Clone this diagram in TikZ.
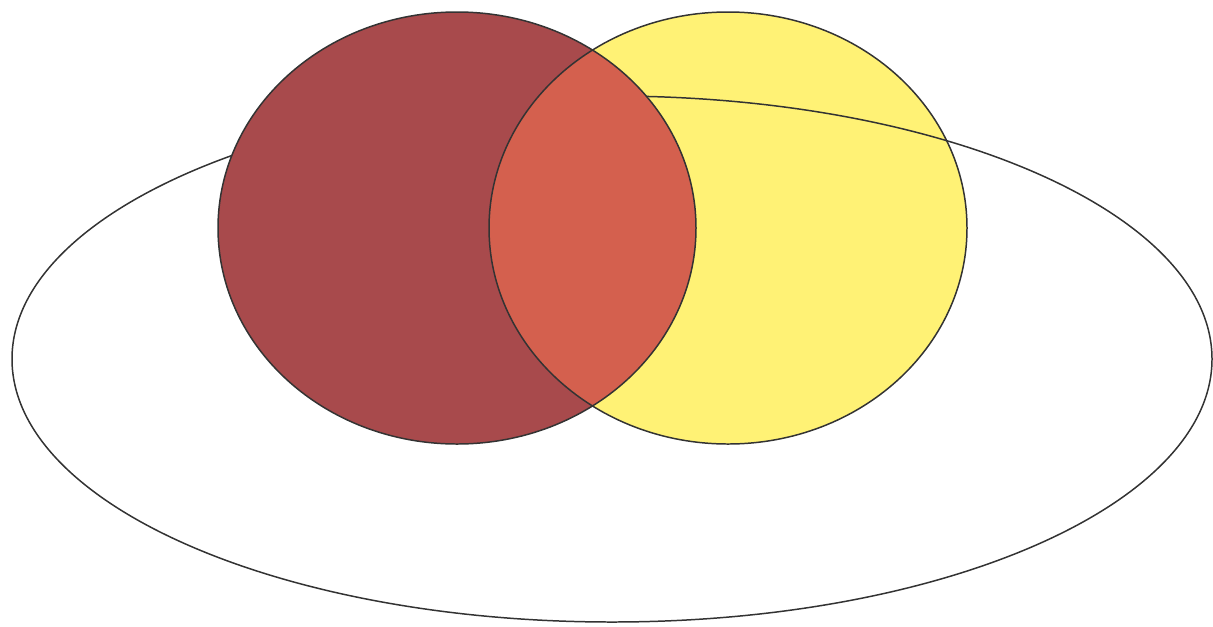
\documentclass[tikz,border=0pt]{standalone}
\begin{document}
\begin{tikzpicture}[x=0.02cm,y=-0.02cm,
  outline/.style={draw=black!80,line width=0.85pt}]
\definecolor{redc}{HTML}{A84A4C}
\definecolor{midc}{HTML}{D4604E}
\definecolor{yelc}{HTML}{FFF275}
\useasboundingbox (0,0) rectangle (1213,626);
\fill[yelc] (728,228) ellipse [x radius=239, y radius=216];
\draw[outline] (612,359) ellipse [x radius=600, y radius=263];
\fill[redc] (457,228) ellipse [x radius=239, y radius=216];
\begin{scope}
  \clip (728,228) ellipse [x radius=239, y radius=216];
  \fill[midc] (457,228) ellipse [x radius=239, y radius=216];
\end{scope}
\draw[outline] (457,228) ellipse [x radius=239, y radius=216];
\draw[outline] (728,228) ellipse [x radius=239, y radius=216];
\end{tikzpicture}
\end{document}
